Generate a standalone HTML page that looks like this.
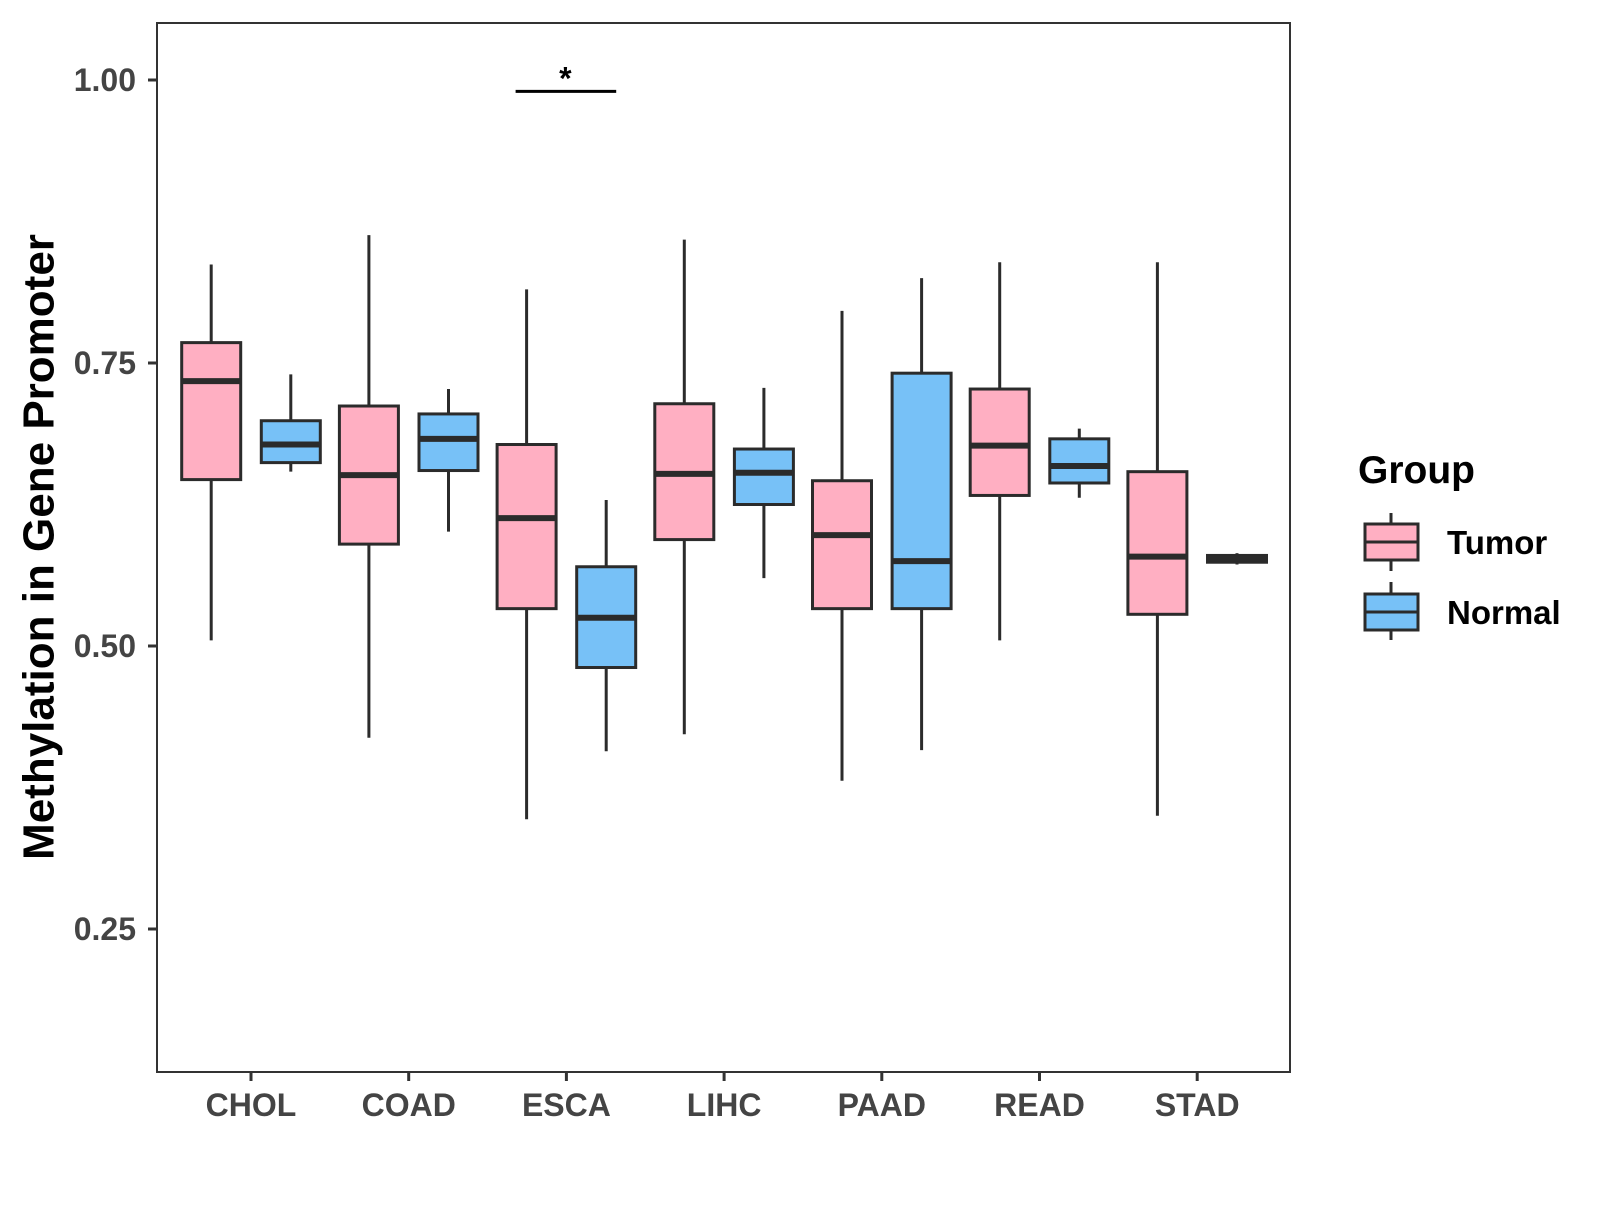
<!DOCTYPE html>
<html><head><meta charset="utf-8"><style>
body{margin:0;background:#fff}
svg text{font-family:"Liberation Sans",Arial,sans-serif;font-weight:bold}
</style></head><body>
<svg width="1600" height="1200" xmlns="http://www.w3.org/2000/svg">
<rect x="0" y="0" width="1600" height="1200" fill="#fff"/>
<g id="plot"></g>
<g id="axes"></g>
<text x="39" y="547" font-size="44" text-anchor="middle" transform="rotate(-90 39 547)" dominant-baseline="central" fill="#000">Methylation in Gene Promoter</text>
<g>
<text x="1358" y="483" font-size="39" fill="#000">Group</text>
<g>
<line x1="1391" y1="513" x2="1391" y2="571" stroke="#2b2b2b" stroke-width="3"/>
<rect x="1365" y="524" width="53" height="36" fill="#FFAFC2" stroke="#2b2b2b" stroke-width="3"/>
<line x1="1365" y1="542" x2="1418" y2="542" stroke="#2b2b2b" stroke-width="3"/>
<text x="1447" y="554" font-size="33" fill="#000">Tumor</text>
</g>
<g>
<line x1="1391" y1="582" x2="1391" y2="640" stroke="#2b2b2b" stroke-width="3"/>
<rect x="1365" y="594" width="53" height="36" fill="#77C1F7" stroke="#2b2b2b" stroke-width="3"/>
<line x1="1365" y1="612" x2="1418" y2="612" stroke="#2b2b2b" stroke-width="3"/>
<text x="1447" y="624" font-size="33" fill="#000">Normal</text>
</g>
</g>
</svg>
<script>
const categories=["CHOL","COAD","ESCA","LIHC","PAAD","READ","STAD"];
const tumorLow=[0.505,0.419,0.347,0.422,0.381,0.505,0.350];
const tumorQ1=[0.647,0.590,0.533,0.594,0.533,0.633,0.528];
const tumorMed=[0.734,0.651,0.613,0.652,0.598,0.677,0.579];
const tumorQ3=[0.768,0.712,0.678,0.714,0.646,0.727,0.654];
const tumorHigh=[0.837,0.863,0.815,0.859,0.796,0.839,0.839];
const normalLow=[0.654,0.601,0.407,0.560,0.408,0.631,0.572];
const normalQ1=[0.662,0.655,0.481,0.625,0.533,0.644,0.574];
const normalMed=[0.678,0.683,0.525,0.653,0.575,0.659,0.577];
const normalQ3=[0.699,0.705,0.570,0.674,0.741,0.683,0.580];
const normalHigh=[0.740,0.727,0.629,0.728,0.825,0.692,0.582];
const yTicks=[0.25,0.50,0.75,1.00];
const yTickLabels=["0.25","0.50","0.75","1.00"];
const sigPair=[2];
const sigLabel="*";
const sigY=[0.990];

const NS="http://www.w3.org/2000/svg";
const L=157,R=1290,T=23,B=1072;
function y(v){return 80+(1-v)*1132;}
function x(i){return 251+i*157.7;}
const dodge=39.8,bw=59;
function mk(tag,attrs,parent){const e=document.createElementNS(NS,tag);for(const k in attrs)e.setAttribute(k,attrs[k]);parent.appendChild(e);return e;}
const plot=document.getElementById('plot'),axes=document.getElementById('axes');
function box(cx,lo,q1,md,q3,hi,fill,name){
  const g=mk('g',{},plot);
  
  
  mk('line',{x1:cx,x2:cx,y1:y(hi),y2:y(lo),stroke:'#2b2b2b','stroke-width':3},g);
  mk('rect',{x:cx-bw/2,y:y(q3),width:bw,height:Math.max(y(q1)-y(q3),0.5),fill:fill,stroke:'#2b2b2b','stroke-width':3},g);
  mk('line',{x1:cx-bw/2,x2:cx+bw/2,y1:y(md),y2:y(md),stroke:'#2b2b2b','stroke-width':6},g);
}
categories.forEach((c,i)=>{
  box(x(i)-dodge,tumorLow[i],tumorQ1[i],tumorMed[i],tumorQ3[i],tumorHigh[i],'#FFAFC2','box-tumor-'+c.toLowerCase());
  box(x(i)+dodge,normalLow[i],normalQ1[i],normalMed[i],normalQ3[i],normalHigh[i],'#77C1F7','box-normal-'+c.toLowerCase());
  const t=mk('line',{x1:x(i),x2:x(i),y1:B,y2:B+9,stroke:'#333','stroke-width':3},axes);
  
  
  const lb=mk('text',{x:x(i),y:1116,'font-size':32,'text-anchor':'middle',fill:'#444'},axes);
  lb.textContent=c;
  
  
});
yTicks.forEach((v,i)=>{
  const t=mk('line',{x1:L-9,x2:L,y1:y(v),y2:y(v),stroke:'#333','stroke-width':3},axes);
  
  
  const lb=mk('text',{x:136,y:y(v)+11,'font-size':32,'text-anchor':'end',fill:'#444'},axes);
  lb.textContent=yTickLabels[i];
  
  
});
const fr=mk('rect',{x:L,y:T,width:R-L,height:B-T,fill:'none',stroke:'#333','stroke-width':2},axes);


sigPair.forEach((i,k)=>{
  const sl=mk('line',{x1:x(i)-dodge-11,x2:x(i)+dodge+10,y1:y(sigY[k]),y2:y(sigY[k]),stroke:'#000','stroke-width':3},axes);
  
  
  const st=mk('text',{x:x(i)-1,y:y(sigY[k])-2,'font-size':32,'text-anchor':'middle',fill:'#000'},axes);
  st.textContent=sigLabel;
  
  
});
</script>
</body></html>
